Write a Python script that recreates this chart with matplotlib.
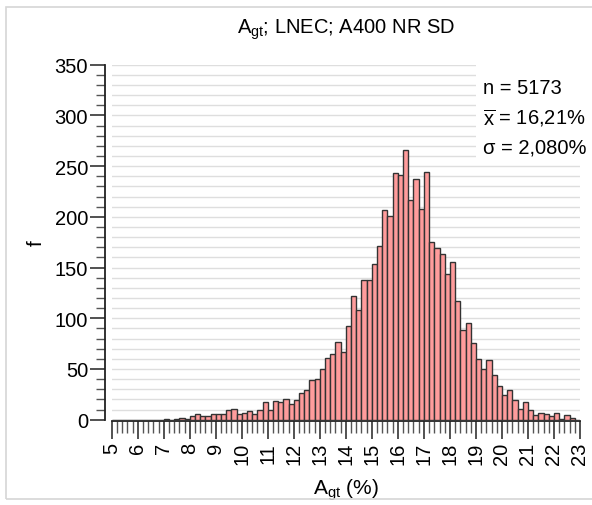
import numpy as np
import matplotlib
matplotlib.use("Agg")
import matplotlib.pyplot as plt
from matplotlib.ticker import MultipleLocator
from matplotlib.patches import Rectangle

plt.rcParams['font.family'] = ['Liberation Sans', 'DejaVu Sans']
plt.rcParams['mathtext.fontset'] = 'custom'
plt.rcParams['mathtext.rm'] = 'Liberation Sans'
plt.rcParams['mathtext.it'] = 'Liberation Sans:italic'

# ---------- данные (гистограмма, шаг 0,2 %) ----------
bin_start = 5.0
bin_width = 0.2
counts = [
    0, 0, 0, 0, 0, 0, 0, 0, 0, 0,
    1, 0, 1, 2, 1, 4, 6, 4, 4, 6,
    6, 6, 10, 11, 6, 7, 9, 6, 10, 17,
    10, 18, 17, 20, 15, 19, 26, 29, 39, 40,
    50, 61, 65, 77, 67, 92, 122, 108, 138, 138,
    154, 171, 207, 201, 243, 241, 266, 217, 237, 208,
    244, 175, 169, 163, 144, 155, 117, 88, 95, 76,
    60, 50, 59, 44, 33, 24, 29, 19, 11, 17,
    10, 5, 7, 6, 4, 7, 1, 5, 2, 0,
]
stats_lines = ["n = 5173", r"$\overline{\mathrm{x}}$ = 16,21%", "σ = 2,080%"]
title = r"A$_{\mathrm{gt}}$; LNEC; A400 NR SD"
xlabel = r"A$_{\mathrm{gt}}$ (%)"

edges = bin_start + bin_width * np.arange(len(counts))

# ---------- рисунок ----------
fig = plt.figure(figsize=(5.92, 5.06), dpi=100)
fig.patches.append(Rectangle((6 / 592, 6 / 506), 1.0, 1 - 14 / 506,
                             transform=fig.transFigure, fill=False,
                             edgecolor='#d6d6d6', linewidth=1.2))
ax = fig.add_axes([111.7 / 592, 1 - 420.7 / 506, 468.3 / 592, 355 / 506])

ax.bar(edges, counts, width=bin_width, align='edge', color='#ff9c9c',
       edgecolor='#333333', linewidth=1.0, zorder=3)

ax.set_xlim(5, 23)
ax.set_ylim(0, 350)
ax.xaxis.set_major_locator(MultipleLocator(1))
ax.xaxis.set_minor_locator(MultipleLocator(0.2))
ax.yaxis.set_major_locator(MultipleLocator(50))
ax.yaxis.set_minor_locator(MultipleLocator(10))

ax.grid(which='both', axis='y', color='#dedede', linewidth=1.0, zorder=0)
ax.set_axisbelow(True)

for s in ['top', 'right']:
    ax.spines[s].set_visible(False)
ax.spines['left'].set_position(('outward', 5))
ax.spines['bottom'].set_position(('outward', 1))
for s in ['left', 'bottom']:
    ax.spines[s].set_linewidth(1.3)
    ax.spines[s].set_color('#222222')

ax.tick_params(axis='x', which='major', length=13, width=1.2, color='#333333',
               labelsize=14.5, pad=2, labelrotation=90)
ax.tick_params(axis='x', which='minor', length=8.5, width=1.0, color='#555555')
ax.tick_params(axis='y', which='major', length=11, width=1.2, color='#333333',
               labelsize=14.5, pad=1)
ax.tick_params(axis='y', which='minor', length=6.5, width=1.0, color='#555555')

ax.text(0.5, 1.10, title, transform=ax.transAxes, ha='center', va='center',
        fontsize=14.5)
ax.set_xlabel(xlabel, fontsize=15)
ax.xaxis.set_label_coords(0.5, -0.16)
ax.set_ylabel('f', fontsize=15)
ax.yaxis.set_label_coords(-0.14, 0.5)

# белая подложка под статистикой
ax.add_patch(Rectangle((0.778, 0.726), 0.25, 0.3, transform=ax.transAxes,
                       facecolor='white', edgecolor='none', zorder=2,
                       clip_on=False))
for i, line in enumerate(stats_lines):
    ax.text(0.793, 0.937 - i * 0.085, line, transform=ax.transAxes,
            ha='left', va='center', fontsize=14.5, zorder=4)

fig.savefig('out.png', dpi=100)
